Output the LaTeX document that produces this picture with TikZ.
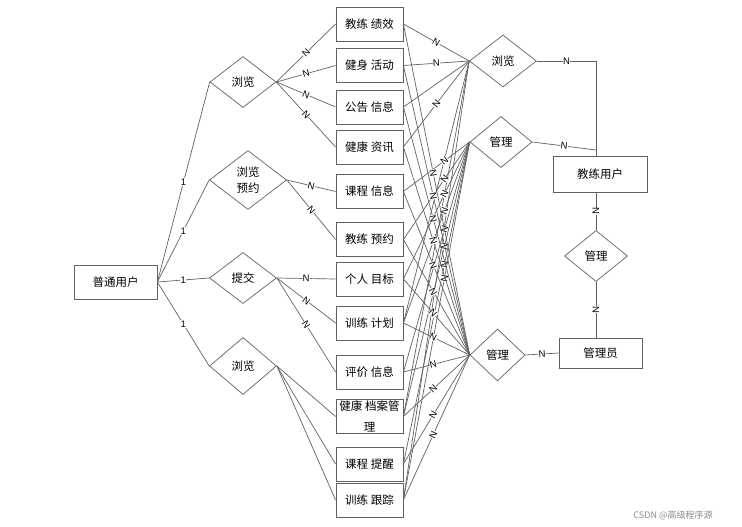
\documentclass[tikz,border=0pt]{standalone}
\usepackage{fontspec}
\setmainfont{Liberation Sans}
\newfontfamily\cjk{Noto Sans CJK SC}
\usetikzlibrary{shapes.geometric}
\begin{document}
\begin{tikzpicture}[x=1pt,y=-1pt,
  ln/.style={draw=black!62, line width=0.7pt},
  ent/.style={draw=black!62, line width=0.8pt, minimum width=67pt, minimum height=34pt, inner sep=0pt, font=\cjk\fontsize{11.5}{13}\selectfont},
  rel/.style={diamond, draw=black!62, line width=0.7pt, inner sep=0pt, align=center, font=\cjk\fontsize{11.5}{16}\selectfont},
  lab/.style={font=\fontsize{9.5}{10}\selectfont, fill=white, inner sep=0.3pt, sloped},
  one/.style={font=\fontsize{9.5}{10}\selectfont, fill=white, inner sep=0.3pt}
]
\useasboundingbox (0,0) rectangle (742,527);

% left side
\node[ent, minimum width=83pt] (user) at (115.5,282) {普通用户};
\node[rel, minimum width=66pt, minimum height=51pt] (d1) at (243,82) {浏览};
\node[rel, minimum width=77pt, minimum height=59pt] (d2) at (248,180) {浏览\\预约};
\node[rel, minimum width=67pt, minimum height=51pt] (d3) at (243,278) {提交};
\node[rel, minimum width=67pt, minimum height=57pt] (d4) at (243,366) {浏览};

% entities
\node[ent] (e1) at (369.5,24) {教练 绩效};
\node[ent] (e2) at (369.5,65.5) {健身 活动};
\node[ent] (e3) at (369.5,107) {公告 信息};
\node[ent] (e4) at (369.5,147) {健康 资讯};
\node[ent] (e5) at (369.5,191.5) {课程 信息};
\node[ent] (e6) at (369.5,239.5) {教练 预约};
\node[ent] (e7) at (369.5,279) {个人 目标};
\node[ent] (e8) at (369.5,323) {训练 计划};
\node[ent] (e9) at (369.5,372) {评价 信息};
\node[ent] (e10) at (369.5,416.5) {};
\node[align=center, inner sep=0pt, font=\cjk\fontsize{11.5}{21}\selectfont] (e10t) at (369.5,416) {健康 档案管\\理};
\node[ent] (e11) at (369.5,464) {课程 提醒};
\node[ent] (e12) at (369.5,500) {训练 跟踪};

% right side
\node[rel, minimum width=67pt, minimum height=52pt] (rR) at (503,61) {浏览};
\node[rel, minimum width=62pt, minimum height=51pt] (rU) at (501,142) {管理};
\node[rel, minimum width=55pt, minimum height=52pt] (rB) at (497.5,355) {管理};
\node[rel, minimum width=63pt, minimum height=51pt] (rM) at (596,256) {管理};
\node[ent, minimum width=94pt, minimum height=36pt] (coach) at (600,174) {教练用户};
\node[ent, minimum width=83pt, minimum height=30pt] (admin) at (600.5,353) {管理员};
\coordinate (c1) at (596,61);
\coordinate (c2) at (596,150);

% user to relations
\draw[ln] (user.east) -- node[one]{1} (d1.west);
\draw[ln] (user.east) -- node[one]{1} (d2.west);
\draw[ln] (user.east) -- node[one]{1} (d3.west);
\draw[ln] (user.east) -- node[one]{1} (d4.west);

% left relations to entities
\draw[ln] (d1.east) -- node[lab]{N} (e1.west);
\draw[ln] (d1.east) -- node[lab]{N} (e2.west);
\draw[ln] (d1.east) -- node[lab]{N} (e3.west);
\draw[ln] (d1.east) -- node[lab]{N} (e4.west);
\draw[ln] (d2.east) -- node[lab]{N} (e5.west);
\draw[ln] (d2.east) -- node[lab]{N} (e6.west);
\draw[ln] (d3.east) -- node[lab]{N} (e7.west);
\draw[ln] (d3.east) -- node[lab]{N} (e8.west);
\draw[ln] (d3.east) -- node[lab]{N} (e9.west);
\draw[ln] (d4.east) -- (e10.west);
\draw[ln] (d4.east) -- (e11.west);
\draw[ln] (d4.east) -- (e12.west);

% entities to right relations
\draw[ln] (e3.east) -- (rR.west);
\draw[ln] (e8.east) -- (rR.west);
\draw[ln] (e10.east) -- (rR.west);
\draw[ln] (e12.east) -- (rR.west);
\foreach \i in {1,2,4} \draw[ln] (e\i.east) -- node[lab]{N} (rR.west);
\foreach \i in {5,...,12} \draw[ln] (e\i.east) -- node[lab, pos=0.62]{N} (rU.west);
\foreach \i in {1,...,12} \draw[ln] (e\i.east) -- node[lab, pos=0.45]{N} (rB.west);

% right part
\draw[ln] (rR.east) -- node[lab]{N} (c1) -- (c1 |- coach.north);
\draw[ln] (rU.east) -- node[lab]{N} (c2);
\draw[ln] (rM.north |- coach.south) -- node[lab]{N} (rM.north);
\draw[ln] (rM.south) -- node[lab]{N} (rM.south |- admin.north);
\draw[ln] (rB.east) -- node[lab]{N} (admin.west);

% watermark
\node[font=\cjk\fontsize{9}{10}\selectfont, text=black!45, inner sep=0pt] (wm) at (673,515) {CSDN @高级程序源};
\end{tikzpicture}
\end{document}
